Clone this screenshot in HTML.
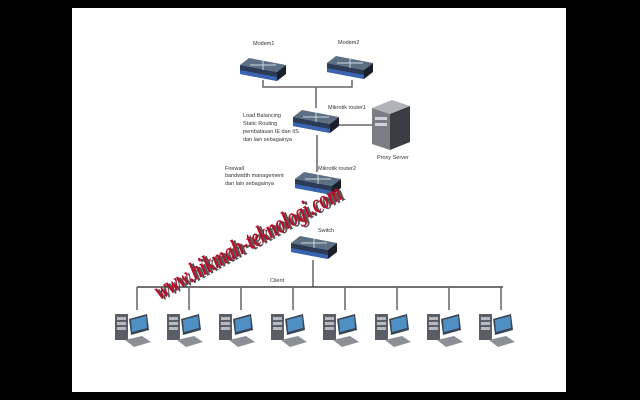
<!DOCTYPE html>
<html><head><style>
body{margin:0;background:#000;width:640px;height:400px;overflow:hidden}
svg{display:block}
text{font-family:"Liberation Sans",sans-serif}
</style></head><body>
<svg width="640" height="400" viewBox="0 0 640 400">
<defs>
<g id="rt">
<polygon points="0,7 9,0 46,7 37,14" fill="#5d6f83"/>
<polygon points="0,7 37,14 37,23 0,16" fill="#2b3a55"/>
<polygon points="37,14 46,7 46,16 37,23" fill="#1a1f2a"/>
<polygon points="0,12 37,19 37,23 0,16" fill="#3a64b0"/>
<line x1="10" y1="7" x2="36" y2="7" stroke="#cfd8e0" stroke-width="1"/>
<line x1="23" y1="2" x2="23" y2="12" stroke="#cfd8e0" stroke-width="1"/>
</g>
<g id="pc">
<rect x="0" y="3" width="13" height="26" fill="#5a5e64"/>
<rect x="2" y="6" width="9" height="3" fill="#b5bac0"/>
<rect x="2" y="11" width="9" height="3" fill="#b5bac0"/>
<rect x="2" y="16" width="9" height="3" fill="#b5bac0"/>
<polygon points="14,8 32,3 34,19 16,24" fill="#3a4654"/>
<polygon points="16,9 31,5 32,17 17,21" fill="#4e8fc4"/>
<polygon points="10,29 27,25 36,31 19,36" fill="#8a9096"/>
</g>
</defs>
<rect x="0" y="0" width="640" height="400" fill="#000"/>
<rect x="72" y="8" width="494" height="384" fill="#fff"/>
<g stroke="#666" stroke-width="1.5" fill="none">
<polyline points="263,80 263,87 352,87 352,80"/>
<line x1="316" y1="87" x2="316" y2="108"/>
<line x1="337" y1="125" x2="374" y2="125"/>
<line x1="317" y1="135" x2="317" y2="172"/>
<line x1="313" y1="260" x2="313" y2="287"/>
<line x1="137" y1="287" x2="503" y2="287" stroke="#444"/>
<line x1="137" y1="287" x2="137" y2="310"/><line x1="189" y1="287" x2="189" y2="310"/>
<line x1="241" y1="287" x2="241" y2="310"/><line x1="293" y1="287" x2="293" y2="310"/>
<line x1="345" y1="287" x2="345" y2="310"/><line x1="397" y1="287" x2="397" y2="310"/>
<line x1="449" y1="287" x2="449" y2="310"/><line x1="501" y1="287" x2="501" y2="310"/>
</g>
<use href="#rt" x="240" y="58"/>
<use href="#rt" x="327" y="56"/>
<use href="#rt" x="293" y="110"/>
<use href="#rt" x="295" y="172"/>
<use href="#rt" x="291" y="236"/>
<polygon points="372,108 392,100 410,106 390,114" fill="#b0b4b8"/>
<polygon points="372,108 390,114 390,150 372,144" fill="#7a7e84"/>
<polygon points="390,114 410,106 410,142 390,150" fill="#3a3e44"/>
<rect x="375" y="117" width="12" height="3" fill="#d0d4d8"/>
<rect x="375" y="123" width="12" height="3" fill="#d0d4d8"/>
<g font-size="5.5" fill="#333">
<text x="253" y="45">Modem1</text>
<text x="338" y="44">Modem2</text>
<text x="328" y="109">Mikrotik router1</text>
<text x="243" y="117">Load Balancing</text>
<text x="243" y="125">Static Routing</text>
<text x="243" y="133">pembatasan IE dan IIS</text>
<text x="243" y="141">dan lain sebagainya</text>
<text x="377" y="159">Proxy Server</text>
<text x="318" y="170">Mikrotik router2</text>
<text x="225" y="170">Firewall</text>
<text x="225" y="177">bandwidth management</text>
<text x="225" y="185">dan lain sebagainya</text>
<text x="318" y="232">Switch</text>
<text x="270" y="282">Client</text>
</g>
<use href="#pc" x="115" y="311"/><use href="#pc" x="167" y="311"/>
<use href="#pc" x="219" y="311"/><use href="#pc" x="271" y="311"/>
<use href="#pc" x="323" y="311"/><use href="#pc" x="375" y="311"/>
<use href="#pc" x="427" y="311"/><use href="#pc" x="479" y="311"/>
<g transform="translate(160,300) rotate(-29)">
<text x="2" y="2" font-weight="bold" font-style="italic" font-size="26" fill="#555" textLength="210" lengthAdjust="spacingAndGlyphs" style="font-family:'Liberation Serif',serif">www.hikmah-teknologi.com</text>
<text x="0" y="0" font-weight="bold" font-style="italic" font-size="26" fill="#b3102a" textLength="210" lengthAdjust="spacingAndGlyphs" style="font-family:'Liberation Serif',serif">www.hikmah-teknologi.com</text>
</g>
</svg>
</body></html>
